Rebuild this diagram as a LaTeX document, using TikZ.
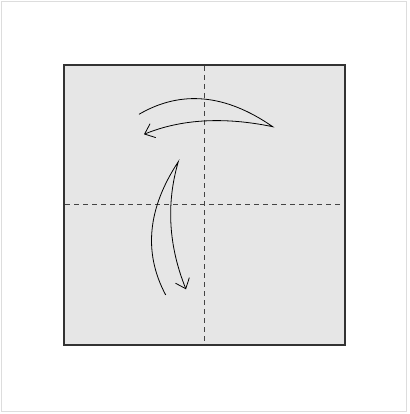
\documentclass[tikz,border=0pt]{standalone}
\usetikzlibrary{arrows.meta}
\definecolor{framegray}{HTML}{DDDDDD}
\definecolor{papergray}{HTML}{E6E6E6}
\definecolor{edgegray}{HTML}{333333}
\definecolor{creasegray}{HTML}{444444}
\begin{document}
\begin{tikzpicture}[x=1pt,y=-1pt,
  crease/.style={creasegray,line width=1pt,dash pattern=on 5pt off 4pt},
  foldarrow/.style={black,line width=0.8pt,-{Straight Barb[length=9pt,width=15pt]}}]
\useasboundingbox (0,0) rectangle (409,414);
\draw[framegray,line width=1.5pt] (1.5,1.5) rectangle (406.5,411.5);
% paper square
\draw[edgegray,fill=papergray,line width=2pt] (64,65) rectangle (345,345);
\draw[crease] (204.5,66) -- (204.5,344);
\draw[crease] (65,204.5) -- (344,204.5);
% fold arrows
\draw[foldarrow] (139,114.3) .. controls (181,89.8) and (225.6,94) .. (272.7,126.7)
  .. controls (224,116.6) and (181.1,119.1) .. (144,134.3);
\draw[foldarrow] (165.7,295) .. controls (143.2,252.8) and (147.5,208.4) .. (178.3,161.7)
  .. controls (166,203.6) and (168.6,246.1) .. (186,289.3);
\end{tikzpicture}
\end{document}
